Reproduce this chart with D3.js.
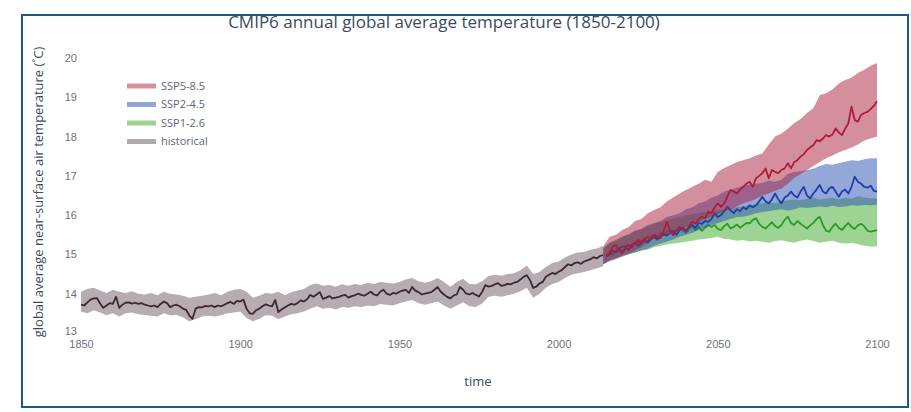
<!DOCTYPE html>
<html>
<head>
<meta charset="utf-8">
<script src="https://cdn.jsdelivr.net/npm/d3@7"></script>
<style>
  body { margin: 0; background: #fff; }
  svg { font-family: "Open Sans", sans-serif; display: block; }
  .tick text { fill: #6f6f78; font-size: 11px; }
</style>
</head>
<body>
<div id="chart"></div>
<script>
// ---- data ----
var histStart = 1850,
    futStart = 2015;

// historical multi-model mean, 1850..2014 (one value per year, one row per decade)
var histMean = [
  13.72,13.70,13.78,13.85,13.88,13.89,13.75,13.64,13.70,13.76,
  13.74,13.92,13.64,13.72,13.77,13.78,13.75,13.77,13.74,13.76,
  13.72,13.70,13.68,13.70,13.66,13.74,13.80,13.76,13.66,13.70,
  13.72,13.68,13.62,13.59,13.45,13.36,13.62,13.66,13.65,13.69,
  13.68,13.70,13.66,13.70,13.68,13.72,13.76,13.79,13.74,13.82,
  13.80,13.85,13.62,13.50,13.49,13.58,13.62,13.68,13.73,13.70,
  13.68,13.84,13.53,13.60,13.65,13.70,13.74,13.72,13.76,13.83,
  13.80,13.86,13.97,13.92,13.98,14.04,13.87,13.90,13.94,13.88,
  13.90,13.92,13.95,13.97,13.90,13.94,13.96,14.00,13.97,13.95,
  14.00,14.05,13.98,13.96,14.05,14.10,14.00,13.97,14.02,14.00,
  14.05,14.08,14.10,14.02,14.17,14.08,14.04,13.98,14.00,14.02,
  14.04,14.10,14.17,14.05,13.98,13.92,13.88,13.95,13.98,14.17,
  14.10,14.00,13.98,14.02,13.97,13.93,14.05,14.22,14.18,14.20,
  14.24,14.27,14.20,14.22,14.25,14.24,14.28,14.30,14.36,14.43,
  14.47,14.35,14.15,14.18,14.26,14.30,14.43,14.48,14.53,14.50,
  14.56,14.60,14.68,14.75,14.72,14.78,14.80,14.76,14.82,14.85,
  14.88,14.93,14.90,14.96,14.98
];

// historical spread, every second year 1850..2014
var histUpper = [
  14.05,14.12,14.15,14.08,14.02, 14.10,14.05,14.02,14.06,14.00,
  13.98,14.02,13.96,14.05,14.00, 13.98,13.95,13.90,13.92,13.95,
  13.98,14.02,13.96,14.05,14.10, 14.12,14.05,13.90,13.95,14.02,
  14.00,14.05,13.96,14.04,14.08, 14.12,14.22,14.26,14.20,14.22,
  14.18,14.24,14.20,14.25,14.22, 14.28,14.25,14.30,14.28,14.26,
  14.30,14.36,14.40,14.32,14.28, 14.32,14.40,14.30,14.18,14.30,
  14.38,14.25,14.24,14.32,14.45, 14.48,14.46,14.50,14.52,14.60,
  14.72,14.50,14.55,14.68,14.78, 14.82,14.92,15.00,15.05,15.06,
  15.12,15.15,15.22
];
var histLower = [
  13.55,13.50,13.58,13.52,13.45, 13.50,13.42,13.50,13.52,13.48,
  13.46,13.44,13.42,13.50,13.45, 13.46,13.40,13.30,13.35,13.42,
  13.44,13.42,13.45,13.50,13.52, 13.55,13.38,13.30,13.36,13.45,
  13.44,13.35,13.42,13.48,13.50, 13.55,13.62,13.68,13.62,13.64,
  13.60,13.66,13.64,13.68,13.66, 13.70,13.68,13.74,13.72,13.70,
  13.76,13.80,13.84,13.76,13.72, 13.76,13.80,13.70,13.62,13.70,
  13.78,13.68,13.66,13.75,13.92, 13.95,13.92,13.96,14.00,14.06,
  14.15,13.90,14.00,14.15,14.25, 14.30,14.40,14.48,14.52,14.55,
  14.60,14.65,14.70
];

// scenario means, 2015..2100 (one value per year)
var ssp585Mean = [
  14.95,15.05,15.20,15.24,15.10,15.03,15.15,15.24,15.18,15.30,
  15.37,15.30,15.40,15.45,15.38,15.50,15.45,15.42,15.60,15.83,
  15.60,15.49,15.62,15.70,15.65,15.60,15.72,15.83,15.78,15.90,
  15.96,15.92,16.09,16.05,16.20,16.30,16.21,16.30,16.47,16.64,
  16.60,16.55,16.65,16.72,16.80,16.85,16.72,16.94,17.00,17.07,
  17.19,16.94,17.15,17.10,17.07,17.15,17.19,17.32,17.19,17.35,
  17.40,17.49,17.55,17.66,17.72,17.78,17.91,17.88,17.95,18.04,
  18.00,18.05,18.21,18.10,18.04,18.20,18.34,18.76,18.42,18.38,
  18.55,18.60,18.63,18.70,18.78,18.90
];
var ssp245Mean = [
  14.95,15.00,15.10,15.05,15.15,15.20,15.20,15.12,15.25,15.30,
  15.22,15.28,15.35,15.30,15.40,15.45,15.38,15.45,15.52,15.48,
  15.55,15.60,15.50,15.62,15.68,15.60,15.70,15.75,15.68,15.80,
  15.78,15.85,15.83,15.90,16.05,15.95,16.00,16.10,16.21,16.12,
  16.05,16.15,16.10,16.20,16.15,16.25,16.20,16.25,16.35,16.47,
  16.35,16.30,16.40,16.55,16.40,16.30,16.45,16.50,16.60,16.50,
  16.45,16.60,16.72,16.50,16.43,16.55,16.65,16.77,16.60,16.55,
  16.68,16.72,16.60,16.47,16.60,16.65,16.55,16.72,16.98,16.85,
  16.80,16.72,16.70,16.75,16.62,16.60
];
var ssp126Mean = [
  14.95,15.05,15.00,15.10,15.15,15.08,15.20,15.25,15.18,15.30,
  15.28,15.35,15.40,15.32,15.45,15.50,15.42,15.55,15.50,15.58,
  15.62,15.52,15.60,15.68,15.60,15.55,15.65,15.72,15.62,15.70,
  15.60,15.68,15.75,15.70,15.75,15.65,15.62,15.72,15.78,15.66,
  15.70,15.76,15.68,15.74,15.80,15.79,15.88,15.92,15.78,15.70,
  15.66,15.74,15.82,15.72,15.68,15.75,15.88,15.96,15.80,15.75,
  15.85,15.78,15.72,15.66,15.74,15.80,15.90,15.96,15.75,15.60,
  15.58,15.70,15.78,15.68,15.62,15.72,15.80,15.70,15.65,15.74,
  15.78,15.72,15.60,15.58,15.60,15.62
];

// scenario spread, every second year 2014..2098 plus 2100
var ssp585Upper = [
  15.20,15.45,15.50,15.62,15.70,15.85,15.90,16.05,16.13,16.20,
  16.35,16.45,16.55,16.64,16.72,16.80,16.90,16.85,17.10,17.20,
  17.27,17.35,17.40,17.45,17.52,17.57,17.80,18.00,18.08,18.20,
  18.34,18.45,18.60,18.72,19.05,19.10,19.20,19.35,19.44,19.50,
  19.62,19.70,19.80,19.87
];
var ssp585Lower = [
  14.75,14.85,14.90,14.98,15.02,15.10,15.18,15.30,15.40,15.45,
  15.50,15.58,15.62,15.70,15.75,15.82,15.90,15.96,16.02,16.10,
  16.15,16.22,16.30,16.35,16.42,16.50,16.55,16.62,16.68,16.80,
  16.95,17.05,17.15,17.25,17.35,17.45,17.52,17.60,17.66,17.72,
  17.80,17.90,17.95,18.00
];
var ssp245Upper = [
  15.15,15.30,15.35,15.45,15.50,15.60,15.65,15.75,15.80,15.85,
  15.95,16.00,16.05,16.15,16.20,16.30,16.35,16.45,16.50,16.60,
  16.65,16.70,16.75,16.78,16.80,16.82,16.88,16.85,16.90,17.05,
  17.10,17.12,17.15,17.18,17.25,17.30,17.28,17.32,17.36,17.40,
  17.38,17.42,17.45,17.45
];
var ssp245Lower = [
  14.75,14.82,14.88,14.95,15.00,15.05,15.10,15.15,15.22,15.28,
  15.32,15.38,15.45,15.50,15.55,15.62,15.68,15.75,15.80,15.85,
  15.90,15.95,15.96,16.00,16.05,16.08,16.10,16.13,16.15,16.12,
  16.15,16.20,16.18,16.20,16.22,16.20,16.24,16.21,16.22,16.25,
  16.24,16.26,16.25,16.26
];
var ssp126Upper = [
  15.15,15.30,15.38,15.45,15.52,15.60,15.65,15.72,15.78,15.82,
  15.88,15.92,15.95,16.00,16.02,16.05,16.08,16.10,16.12,16.15,
  16.18,16.20,16.22,16.25,16.28,16.30,16.32,16.30,16.35,16.38,
  16.40,16.38,16.42,16.45,16.40,16.42,16.45,16.40,16.45,16.42,
  16.48,16.45,16.43,16.43
];
var ssp126Lower = [
  14.75,14.85,14.90,14.95,15.02,15.05,15.10,15.12,15.18,15.22,
  15.25,15.28,15.30,15.32,15.35,15.38,15.40,15.42,15.45,15.40,
  15.38,15.35,15.37,15.33,15.35,15.32,15.30,15.34,15.36,15.32,
  15.30,15.35,15.38,15.34,15.30,15.32,15.35,15.30,15.28,15.30,
  15.26,15.22,15.20,15.20
];

var xTicks = [1850, 1900, 1950, 2000, 2050, 2100],
    yTicks = [13, 14, 15, 16, 17, 18, 19, 20];

var legendLabels = ["SSP5-8.5", "SSP2-4.5", "SSP1-2.6", "historical"];

// ---- layout ----
var outerWidth = 911,
    outerHeight = 412,
    plot = {left: 81, right: 877, top: 58, bottom: 333};

var x = d3.scaleLinear().domain([1850, 2100]).range([plot.left, plot.right]);
var y = d3.scaleLinear().domain([13, 20]).range([plot.bottom, plot.top]);

var histYears = histMean.map(function(d, i) { return histStart + i; }),
    histBandYears = d3.range(1850, 2015, 2),
    futYears = ssp585Mean.map(function(d, i) { return futStart + i; }),
    futBandYears = d3.range(2014, 2100, 2).concat([2100]);

function pairs(years, vals) {
    return vals.map(function(v, i) { return [years[i], v]; });
}
function band(years, lo, hi) {
    return lo.map(function(v, i) { return {t: years[i], lo: v, hi: hi[i]}; });
}

var series = [
    {name: "historical", mean: pairs(histYears, histMean), band: band(histBandYears, histLower, histUpper),
     fill: "rgba(110,90,100,0.5)", line: "#3a2a30", swatch: "#b3a9ae"},
    {name: "SSP1-2.6", mean: pairs(futYears, ssp126Mean), band: band(futBandYears, ssp126Lower, ssp126Upper),
     fill: "rgba(60,170,40,0.5)", line: "#2b9a2b", swatch: "#9bd38e"},
    {name: "SSP2-4.5", mean: pairs(futYears, ssp245Mean), band: band(futBandYears, ssp245Lower, ssp245Upper),
     fill: "rgba(40,80,180,0.5)", line: "#1f3fa8", swatch: "#93a6d9"},
    {name: "SSP5-8.5", mean: pairs(futYears, ssp585Mean), band: band(futBandYears, ssp585Lower, ssp585Upper),
     fill: "rgba(170,30,60,0.5)", line: "#b01c3a", swatch: "#d792a0"}
];

var svg = d3.select("#chart")
    .append("svg")
    .attr("width", outerWidth)
    .attr("height", outerHeight);

// frame around the figure
svg.append("rect")
    .attr("x", 22).attr("y", 15)
    .attr("width", 886).attr("height", 392)
    .attr("fill", "none")
    .attr("stroke", "#1b5a84")
    .attr("stroke-width", 2);

var area = d3.area()
    .x(function(d) { return x(d.t); })
    .y0(function(d) { return y(d.lo); })
    .y1(function(d) { return y(d.hi); });

var line = d3.line()
    .x(function(d) { return x(d[0]); })
    .y(function(d) { return y(d[1]); });

var traces = svg.append("g").classed("traces", true);
series.forEach(function(s) {
    traces.append("path")
        .datum(s.band)
        .attr("d", area)
        .attr("fill", s.fill)
        .attr("stroke", "none");
    traces.append("path")
        .datum(s.mean)
        .attr("d", line)
        .attr("fill", "none")
        .attr("stroke", s.line)
        .attr("stroke-width", 1.8)
        .attr("stroke-linejoin", "round");
});

// axes
var xAxis = d3.axisBottom(x).tickValues(xTicks).tickSize(0).tickPadding(7).tickFormat(d3.format("d"));
var yAxis = d3.axisLeft(y).tickValues(yTicks).tickSize(0).tickPadding(4).tickFormat(d3.format("d"));

svg.append("g")
    .classed("x axis", true)
    .attr("transform", "translate(0," + plot.bottom + ")")
    .call(xAxis)
    .call(function(g) { g.select(".domain").remove(); });

svg.append("g")
    .classed("y axis", true)
    .attr("transform", "translate(" + plot.left + ",0)")
    .call(yAxis)
    .call(function(g) { g.select(".domain").remove(); });

// y label "13" sits just above "1850" as in the source figure
svg.select(".y.axis").selectAll(".tick text")
    .filter(function(d) { return d === 13; })
    .attr("dy", "0.1em");

// titles
svg.append("text")
    .attr("x", 444).attr("y", 28)
    .attr("text-anchor", "middle")
    .attr("fill", "#3d4a62")
    .style("font-size", "17px")
    .text("CMIP6 annual global average temperature (1850-2100)");

svg.append("text")
    .attr("x", 478).attr("y", 386)
    .attr("text-anchor", "middle")
    .attr("fill", "#3d4a62")
    .style("font-size", "13px")
    .text("time");

svg.append("text")
    .attr("transform", "translate(43,192) rotate(-90)")
    .attr("text-anchor", "middle")
    .attr("fill", "#3d4a62")
    .style("font-size", "13px")
    .text("global average near-surface air temperature (\u02DAC)");

// legend
var legendColors = {};
series.forEach(function(s) { legendColors[s.name] = s.swatch; });

var legend = svg.append("g").attr("transform", "translate(127,86)");
var item = legend.selectAll(".item")
    .data(legendLabels)
    .enter().append("g")
    .classed("item", true)
    .attr("transform", function(d, i) { return "translate(0," + (i * 18.5) + ")"; });

item.append("line")
    .attr("x1", 0).attr("x2", 29)
    .attr("stroke", function(d) { return legendColors[d]; })
    .attr("stroke-width", 5);

item.append("text")
    .attr("x", 34).attr("dy", "0.35em")
    .attr("fill", "#5b6478")
    .style("font-size", "11px")
    .text(function(d) { return d; });
</script>
</body>
</html>
